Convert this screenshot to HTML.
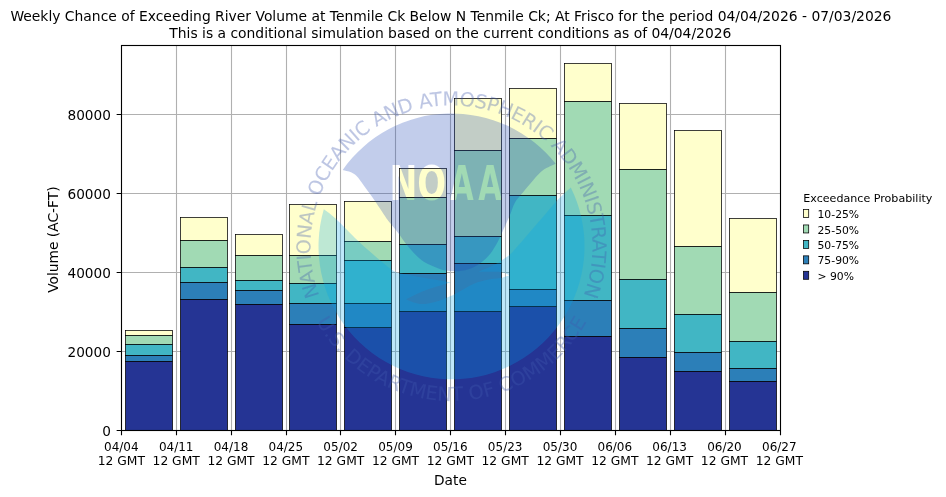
<!DOCTYPE html><html><head><meta charset="utf-8"><style>html,body{margin:0;padding:0;background:#fff;overflow:hidden}svg{display:block;will-change:transform}text{font-family:"DejaVu Sans","Liberation Sans",sans-serif}</style></head><body>
<svg width="946" height="497" viewBox="0 0 946 497">
<rect x="0" y="0" width="946" height="497" fill="#fff"/>
<path d="M176.5 45.5V430.5M231.5 45.5V430.5M286.5 45.5V430.5M340.5 45.5V430.5M395.5 45.5V430.5M450.5 45.5V430.5M505.5 45.5V430.5M560.5 45.5V430.5M615.5 45.5V430.5M670.5 45.5V430.5M725.5 45.5V430.5M121.5 351.5H780.5M121.5 272.5H780.5M121.5 193.5H780.5M121.5 114.5H780.5" stroke="#b0b0b0" stroke-width="1.11" fill="none"/>
<rect x="125.5" y="330.5" width="47.00" height="5.00" fill="#ffffcc" stroke="#000" stroke-width="0.75"/>
<rect x="125.5" y="335.5" width="47.00" height="9.00" fill="#a1dab4" stroke="#000" stroke-width="0.75"/>
<rect x="125.5" y="344.5" width="47.00" height="11.00" fill="#41b6c4" stroke="#000" stroke-width="0.75"/>
<rect x="125.5" y="355.5" width="47.00" height="6.00" fill="#2c7fb8" stroke="#000" stroke-width="0.75"/>
<rect x="125.5" y="361.5" width="47.00" height="69.00" fill="#253494" stroke="#000" stroke-width="0.75"/>
<rect x="180.5" y="217.5" width="47.00" height="23.00" fill="#ffffcc" stroke="#000" stroke-width="0.75"/>
<rect x="180.5" y="240.5" width="47.00" height="27.00" fill="#a1dab4" stroke="#000" stroke-width="0.75"/>
<rect x="180.5" y="267.5" width="47.00" height="15.00" fill="#41b6c4" stroke="#000" stroke-width="0.75"/>
<rect x="180.5" y="282.5" width="47.00" height="17.00" fill="#2c7fb8" stroke="#000" stroke-width="0.75"/>
<rect x="180.5" y="299.5" width="47.00" height="131.00" fill="#253494" stroke="#000" stroke-width="0.75"/>
<rect x="235.5" y="234.5" width="47.00" height="21.00" fill="#ffffcc" stroke="#000" stroke-width="0.75"/>
<rect x="235.5" y="255.5" width="47.00" height="25.00" fill="#a1dab4" stroke="#000" stroke-width="0.75"/>
<rect x="235.5" y="280.5" width="47.00" height="10.00" fill="#41b6c4" stroke="#000" stroke-width="0.75"/>
<rect x="235.5" y="290.5" width="47.00" height="14.00" fill="#2c7fb8" stroke="#000" stroke-width="0.75"/>
<rect x="235.5" y="304.5" width="47.00" height="126.00" fill="#253494" stroke="#000" stroke-width="0.75"/>
<rect x="289.5" y="204.5" width="47.00" height="51.00" fill="#ffffcc" stroke="#000" stroke-width="0.75"/>
<rect x="289.5" y="255.5" width="47.00" height="28.00" fill="#a1dab4" stroke="#000" stroke-width="0.75"/>
<rect x="289.5" y="283.5" width="47.00" height="20.00" fill="#41b6c4" stroke="#000" stroke-width="0.75"/>
<rect x="289.5" y="303.5" width="47.00" height="21.00" fill="#2c7fb8" stroke="#000" stroke-width="0.75"/>
<rect x="289.5" y="324.5" width="47.00" height="106.00" fill="#253494" stroke="#000" stroke-width="0.75"/>
<rect x="344.5" y="201.5" width="47.00" height="40.00" fill="#ffffcc" stroke="#000" stroke-width="0.75"/>
<rect x="344.5" y="241.5" width="47.00" height="19.00" fill="#a1dab4" stroke="#000" stroke-width="0.75"/>
<rect x="344.5" y="260.5" width="47.00" height="43.00" fill="#41b6c4" stroke="#000" stroke-width="0.75"/>
<rect x="344.5" y="303.5" width="47.00" height="24.00" fill="#2c7fb8" stroke="#000" stroke-width="0.75"/>
<rect x="344.5" y="327.5" width="47.00" height="103.00" fill="#253494" stroke="#000" stroke-width="0.75"/>
<rect x="399.5" y="168.5" width="47.00" height="29.00" fill="#ffffcc" stroke="#000" stroke-width="0.75"/>
<rect x="399.5" y="197.5" width="47.00" height="47.00" fill="#a1dab4" stroke="#000" stroke-width="0.75"/>
<rect x="399.5" y="244.5" width="47.00" height="29.00" fill="#41b6c4" stroke="#000" stroke-width="0.75"/>
<rect x="399.5" y="273.5" width="47.00" height="38.00" fill="#2c7fb8" stroke="#000" stroke-width="0.75"/>
<rect x="399.5" y="311.5" width="47.00" height="119.00" fill="#253494" stroke="#000" stroke-width="0.75"/>
<rect x="454.5" y="98.5" width="47.00" height="52.00" fill="#ffffcc" stroke="#000" stroke-width="0.75"/>
<rect x="454.5" y="150.5" width="47.00" height="86.00" fill="#a1dab4" stroke="#000" stroke-width="0.75"/>
<rect x="454.5" y="236.5" width="47.00" height="27.00" fill="#41b6c4" stroke="#000" stroke-width="0.75"/>
<rect x="454.5" y="263.5" width="47.00" height="48.00" fill="#2c7fb8" stroke="#000" stroke-width="0.75"/>
<rect x="454.5" y="311.5" width="47.00" height="119.00" fill="#253494" stroke="#000" stroke-width="0.75"/>
<rect x="509.5" y="88.5" width="47.00" height="50.00" fill="#ffffcc" stroke="#000" stroke-width="0.75"/>
<rect x="509.5" y="138.5" width="47.00" height="57.00" fill="#a1dab4" stroke="#000" stroke-width="0.75"/>
<rect x="509.5" y="195.5" width="47.00" height="94.00" fill="#41b6c4" stroke="#000" stroke-width="0.75"/>
<rect x="509.5" y="289.5" width="47.00" height="17.00" fill="#2c7fb8" stroke="#000" stroke-width="0.75"/>
<rect x="509.5" y="306.5" width="47.00" height="124.00" fill="#253494" stroke="#000" stroke-width="0.75"/>
<rect x="564.5" y="63.5" width="47.00" height="38.00" fill="#ffffcc" stroke="#000" stroke-width="0.75"/>
<rect x="564.5" y="101.5" width="47.00" height="114.00" fill="#a1dab4" stroke="#000" stroke-width="0.75"/>
<rect x="564.5" y="215.5" width="47.00" height="85.00" fill="#41b6c4" stroke="#000" stroke-width="0.75"/>
<rect x="564.5" y="300.5" width="47.00" height="36.00" fill="#2c7fb8" stroke="#000" stroke-width="0.75"/>
<rect x="564.5" y="336.5" width="47.00" height="94.00" fill="#253494" stroke="#000" stroke-width="0.75"/>
<rect x="619.5" y="103.5" width="47.00" height="66.00" fill="#ffffcc" stroke="#000" stroke-width="0.75"/>
<rect x="619.5" y="169.5" width="47.00" height="110.00" fill="#a1dab4" stroke="#000" stroke-width="0.75"/>
<rect x="619.5" y="279.5" width="47.00" height="49.00" fill="#41b6c4" stroke="#000" stroke-width="0.75"/>
<rect x="619.5" y="328.5" width="47.00" height="29.00" fill="#2c7fb8" stroke="#000" stroke-width="0.75"/>
<rect x="619.5" y="357.5" width="47.00" height="73.00" fill="#253494" stroke="#000" stroke-width="0.75"/>
<rect x="674.5" y="130.5" width="47.00" height="116.00" fill="#ffffcc" stroke="#000" stroke-width="0.75"/>
<rect x="674.5" y="246.5" width="47.00" height="68.00" fill="#a1dab4" stroke="#000" stroke-width="0.75"/>
<rect x="674.5" y="314.5" width="47.00" height="38.00" fill="#41b6c4" stroke="#000" stroke-width="0.75"/>
<rect x="674.5" y="352.5" width="47.00" height="19.00" fill="#2c7fb8" stroke="#000" stroke-width="0.75"/>
<rect x="674.5" y="371.5" width="47.00" height="59.00" fill="#253494" stroke="#000" stroke-width="0.75"/>
<rect x="729.5" y="218.5" width="47.00" height="74.00" fill="#ffffcc" stroke="#000" stroke-width="0.75"/>
<rect x="729.5" y="292.5" width="47.00" height="49.00" fill="#a1dab4" stroke="#000" stroke-width="0.75"/>
<rect x="729.5" y="341.5" width="47.00" height="27.00" fill="#41b6c4" stroke="#000" stroke-width="0.75"/>
<rect x="729.5" y="368.5" width="47.00" height="13.00" fill="#2c7fb8" stroke="#000" stroke-width="0.75"/>
<rect x="729.5" y="381.5" width="47.00" height="49.00" fill="#253494" stroke="#000" stroke-width="0.75"/>
<rect x="121.5" y="45.5" width="659.0" height="385.0" fill="none" stroke="#000" stroke-width="1.11"/>
<path d="M121.5 430.5v4.86M176.5 430.5v4.86M231.5 430.5v4.86M286.5 430.5v4.86M340.5 430.5v4.86M395.5 430.5v4.86M450.5 430.5v4.86M505.5 430.5v4.86M560.5 430.5v4.86M615.5 430.5v4.86M670.5 430.5v4.86M725.5 430.5v4.86M780.5 430.5v4.86M121.5 430.5h-4.86M121.5 351.5h-4.86M121.5 272.5h-4.86M121.5 193.5h-4.86M121.5 114.5h-4.86" stroke="#000" stroke-width="1.11" fill="none"/>
<text x="110.9" y="435.90" font-size="13.65" text-anchor="end">0</text>
<text x="110.9" y="356.90" font-size="13.65" text-anchor="end">20000</text>
<text x="110.9" y="277.90" font-size="13.65" text-anchor="end">40000</text>
<text x="110.9" y="198.90" font-size="13.65" text-anchor="end">60000</text>
<text x="110.9" y="119.90" font-size="13.65" text-anchor="end">80000</text>
<text x="121.35" y="450.9" font-size="12" text-anchor="middle">04/04</text>
<text x="121.35" y="465.1" font-size="12.3" text-anchor="middle">12 GMT</text>
<text x="176.18" y="450.9" font-size="12" text-anchor="middle">04/11</text>
<text x="176.18" y="465.1" font-size="12.3" text-anchor="middle">12 GMT</text>
<text x="231.01" y="450.9" font-size="12" text-anchor="middle">04/18</text>
<text x="231.01" y="465.1" font-size="12.3" text-anchor="middle">12 GMT</text>
<text x="285.84" y="450.9" font-size="12" text-anchor="middle">04/25</text>
<text x="285.84" y="465.1" font-size="12.3" text-anchor="middle">12 GMT</text>
<text x="340.67" y="450.9" font-size="12" text-anchor="middle">05/02</text>
<text x="340.67" y="465.1" font-size="12.3" text-anchor="middle">12 GMT</text>
<text x="395.50" y="450.9" font-size="12" text-anchor="middle">05/09</text>
<text x="395.50" y="465.1" font-size="12.3" text-anchor="middle">12 GMT</text>
<text x="450.33" y="450.9" font-size="12" text-anchor="middle">05/16</text>
<text x="450.33" y="465.1" font-size="12.3" text-anchor="middle">12 GMT</text>
<text x="505.16" y="450.9" font-size="12" text-anchor="middle">05/23</text>
<text x="505.16" y="465.1" font-size="12.3" text-anchor="middle">12 GMT</text>
<text x="559.99" y="450.9" font-size="12" text-anchor="middle">05/30</text>
<text x="559.99" y="465.1" font-size="12.3" text-anchor="middle">12 GMT</text>
<text x="614.82" y="450.9" font-size="12" text-anchor="middle">06/06</text>
<text x="614.82" y="465.1" font-size="12.3" text-anchor="middle">12 GMT</text>
<text x="669.65" y="450.9" font-size="12" text-anchor="middle">06/13</text>
<text x="669.65" y="465.1" font-size="12.3" text-anchor="middle">12 GMT</text>
<text x="724.48" y="450.9" font-size="12" text-anchor="middle">06/20</text>
<text x="724.48" y="465.1" font-size="12.3" text-anchor="middle">12 GMT</text>
<text x="779.31" y="450.9" font-size="12" text-anchor="middle">06/27</text>
<text x="779.31" y="465.1" font-size="12.3" text-anchor="middle">12 GMT</text>
<text x="450.45" y="484.8" font-size="13.75" text-anchor="middle">Date</text>
<text transform="translate(58.0 239.65) rotate(-90)" x="0" y="0" font-size="13.8" text-anchor="middle">Volume (AC-FT)</text>
<text x="450.9" y="20.7" font-size="13.89" text-anchor="middle">Weekly Chance of Exceeding River Volume at Tenmile Ck Below N Tenmile Ck; At Frisco for the period 04/04/2026 - 07/03/2026</text>
<text x="450.35" y="37.9" font-size="13.89" text-anchor="middle">This is a conditional simulation based on the current conditions as of 04/04/2026</text>
<text x="803.3" y="201.9" font-size="11.1">Exceedance Probability</text>
<rect x="803.5" y="209.50" width="5.2" height="8" fill="#ffffcc" stroke="#000" stroke-width="0.75"/>
<text x="817.5" y="218.10" font-size="10.8">10-25%</text>
<rect x="803.5" y="224.95" width="5.2" height="8" fill="#a1dab4" stroke="#000" stroke-width="0.75"/>
<text x="817.5" y="233.55" font-size="10.8">25-50%</text>
<rect x="803.5" y="240.40" width="5.2" height="8" fill="#41b6c4" stroke="#000" stroke-width="0.75"/>
<text x="817.5" y="249.00" font-size="10.8">50-75%</text>
<rect x="803.5" y="255.85" width="5.2" height="8" fill="#2c7fb8" stroke="#000" stroke-width="0.75"/>
<text x="817.5" y="264.45" font-size="10.8">75-90%</text>
<rect x="803.5" y="271.30" width="5.2" height="8" fill="#253494" stroke="#000" stroke-width="0.75"/>
<text x="817.5" y="279.90" font-size="10.8">&gt; 90%</text>
<defs>
<path id="rtop" d="M319.69 296.47A141 141 0 1 1 583.31 296.47"/>
<path id="rbot" d="M315.96 320.76A154.6 154.6 0 0 0 587.04 320.76"/>
<mask id="skym" maskUnits="userSpaceOnUse" x="0" y="0" width="946" height="497"><rect x="0" y="0" width="946" height="497" fill="#fff"/><text y="199.6" font-family="DejaVu Sans Mono, monospace" font-weight="bold" font-size="47.5" fill="#000" stroke="#000" stroke-width="0" stroke-linejoin="round"><tspan x="389.6" textLength="27.9" lengthAdjust="spacingAndGlyphs">N</tspan><tspan x="417.2" textLength="28.9" lengthAdjust="spacingAndGlyphs">O</tspan><tspan x="449.95" textLength="23.7" lengthAdjust="spacingAndGlyphs">A</tspan><tspan x="478.35" textLength="23.7" lengthAdjust="spacingAndGlyphs">A</tspan></text></mask>
</defs>
<path d="M342.7 169.9A133.0 133.0 0 0 1 555.7 163.8C553.6 164.8 547.0 167.4 543.2 170.1C539.4 172.8 536.6 176.5 533.2 180.2C529.9 183.9 526.1 188.5 523.1 192.2C520.1 195.9 517.4 198.3 515.1 202.3C512.8 206.3 511.5 211.6 509.5 216.3C507.5 221.0 505.2 225.6 503.0 230.4C500.8 235.2 498.8 240.3 496.0 245.0C493.2 249.7 490.0 254.7 486.0 258.5C482.0 262.3 476.6 265.9 472.0 268.0C467.4 270.1 462.5 270.8 458.2 271.2C453.9 271.6 449.9 271.1 446.4 270.6C442.9 270.1 441.0 269.4 437.3 268.0C433.6 266.6 428.1 264.6 424.2 262.1C420.3 259.6 416.9 256.0 413.8 252.9C410.8 249.8 408.3 246.9 405.9 243.8C403.5 240.8 401.7 237.7 399.4 234.6C397.1 231.5 394.2 228.0 392.2 225.5C390.2 223.0 390.1 223.4 387.5 219.7C384.9 216.0 379.9 208.2 376.6 203.4C373.3 198.6 371.2 195.6 367.6 190.8C364.0 186.0 359.2 178.0 355.0 174.5C350.8 171.0 344.7 170.7 342.7 169.9Z" fill="rgb(30,70,180)" fill-opacity="0.27" mask="url(#skym)"/>
<path d="M323.8 209.2C325.7 210.6 329.4 212.8 335.0 218.0C340.6 223.2 351.0 234.2 357.7 240.5C364.4 246.8 369.1 251.0 375.0 256.0C380.9 261.0 388.4 267.7 393.0 270.6C397.6 273.6 397.3 272.5 402.6 273.7C407.9 274.9 417.6 276.6 425.0 278.0C432.4 279.4 442.5 281.0 447.0 281.8C451.5 282.6 451.2 282.5 452.0 282.6C451.2 282.7 451.5 282.1 447.0 283.4C442.5 284.7 431.8 287.9 425.0 290.5C418.2 293.1 409.2 297.8 406.0 299.3C407.5 299.9 411.8 302.0 415.0 302.8C418.2 303.6 420.8 304.4 425.0 304.0C429.2 303.6 436.3 301.6 440.0 300.5C443.7 299.4 444.5 298.7 447.0 297.6C449.5 296.5 450.5 296.3 455.0 294.0C459.5 291.7 468.2 286.1 474.0 283.7C479.8 281.2 485.3 280.3 490.0 279.3C494.7 278.3 498.8 278.4 502.0 277.7C505.2 277.0 508.2 275.7 509.5 275.3C508.2 274.8 505.2 272.8 502.0 272.2C498.8 271.6 493.9 271.9 490.0 271.8C486.1 271.7 480.4 271.7 478.5 271.7C481.0 270.6 489.5 267.2 493.5 265.2C497.5 263.2 499.8 261.6 502.6 259.8C505.4 258.0 507.6 256.8 510.4 254.2C513.1 251.6 515.6 248.5 519.1 244.5C522.6 240.5 526.8 235.4 531.2 230.4C535.6 225.4 540.9 219.3 545.3 214.3C549.6 209.3 553.1 204.8 557.3 200.3C561.5 195.8 568.5 189.7 570.8 187.5A133.0 133.0 0 1 1 323.8 209.2Z" fill="rgb(0,165,235)" fill-opacity="0.255"/>
<text font-family="Liberation Sans, sans-serif" font-size="19.3" fill="rgb(65,90,175)" opacity="0.34" stroke="rgb(65,90,175)" stroke-width="0.1"><textPath href="#rtop" startOffset="50%" text-anchor="middle" textLength="543.3" lengthAdjust="spacing">NATIONAL OCEANIC AND ATMOSPHERIC ADMINISTRATION</textPath></text>
<text font-family="Liberation Sans, sans-serif" font-size="19.3" fill="rgb(65,90,175)" opacity="0.34" stroke="rgb(65,90,175)" stroke-width="0.1"><textPath href="#rbot" startOffset="50%" text-anchor="middle" textLength="328.5" lengthAdjust="spacing">U.S. DEPARTMENT OF COMMERCE</textPath></text>
</svg></body></html>
